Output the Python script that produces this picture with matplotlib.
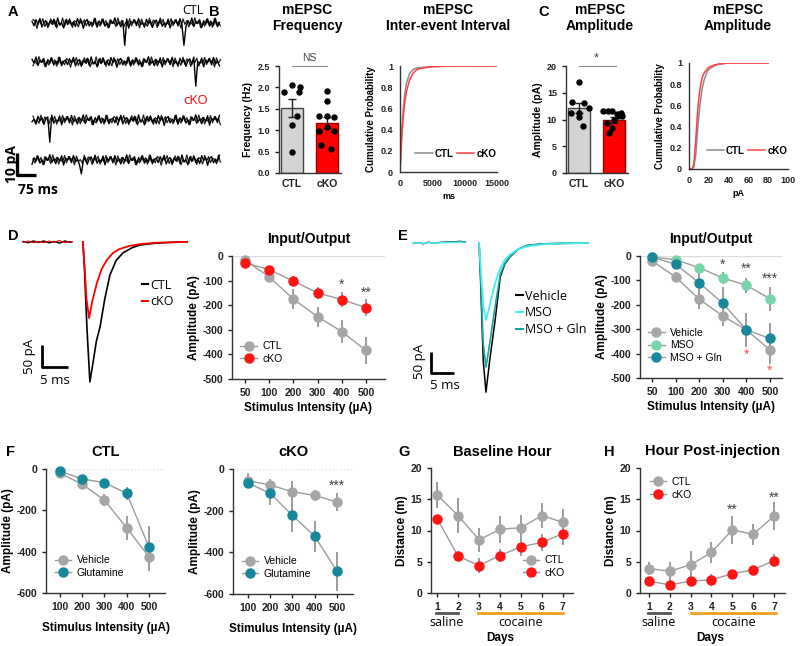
import numpy as np
import matplotlib
matplotlib.use("Agg")
import matplotlib.pyplot as plt
import matplotlib.transforms as mtransforms
from matplotlib.lines import Line2D

plt.rcParams["font.family"] = ["Liberation Sans", "DejaVu Sans"]
plt.rcParams["axes.unicode_minus"] = False
plt.rcParams["axes.linewidth"] = 1.0

# ---------------- data ----------------
# A: spontaneous mEPSC traces (pA), noise read loosely from the picture
trace_jitter = [0.8, -1.2, 1.5, -0.6, 2.1, -1.8, 0.3, 1.1, -2.0, 0.9, -0.4, 1.7,
                -1.5, 2.3, -0.9, 0.2, -2.2, 1.4, -0.7, 1.9, -1.1, 0.6, -1.6, 2.0,
                -0.3, 1.2, -2.4, 0.7, 1.6, -1.3, 0.4, -0.8, 2.2, -1.9, 1.0, -0.5,
                1.8, -1.4, 0.1, -2.1, 1.3, -0.2, 2.4, -1.0, 0.5, -1.7, 1.1, -0.6,
                1.9, -2.3, 0.8, -0.1, 1.5, -1.2, 2.1, -0.8, 0.3, -1.9, 1.7, -0.4,
                1.0, -2.0, 0.6, 1.4, -1.1, 2.2, -1.5, 0.2, -0.7, 1.8, -2.2, 0.9,
                -0.3, 1.6, -1.3, 2.0, -0.9, 0.4, -1.8, 1.2, -0.5, 2.3, -1.6, 0.7,
                -0.2, 1.5, -2.1, 1.1, -0.6, 1.9, -1.4, 0.5, -1.0, 2.1, -1.7, 0.3]
trace_events = [(0, 363, 9.5), (0, 600, 10.5), (1, 644, 9.5), (2, 71, 9.0), (3, 198, 8.0)]

# B: mEPSC frequency
freq_groups = ["CTL", "cKO"]
freq_mean = [1.52, 1.17]
freq_sem = [0.20, 0.13]
freq_ctl = [1.9, 2.06, 2.0, 1.9, 1.33, 1.11, 0.49]
freq_cko = [1.92, 1.68, 1.33, 1.33, 1.32, 0.98, 1.08, 0.97, 0.66, 0.55]

# B: inter-event interval cumulative
iei_ms = [0, 250, 500, 750, 1000, 1500, 2000, 2500, 3000, 4000, 5000, 7500, 10000, 15000]
iei_ctl = [0, 0.36, 0.6, 0.74, 0.84, 0.93, 0.965, 0.98, 0.985, 0.99, 0.995, 1, 1, 1]
iei_cko = [0, 0.30, 0.52, 0.66, 0.76, 0.87, 0.93, 0.96, 0.975, 0.985, 0.993, 0.998, 1, 1]

# C: mEPSC amplitude
amp_mean = [12.2, 9.9]
amp_sem = [0.9, 0.5]
amp_ctl = [17.1, 13.3, 13.0, 11.3, 11.3, 12.2, 10.5, 8.85]
amp_cko = [11.6, 11.6, 11.6, 11.0, 10.6, 10.6, 9.9, 9.4, 8.4, 7.4, 11.2]

# C: amplitude cumulative
amp_pa = [0, 3, 5, 7, 9, 11, 13, 15, 18, 20, 25, 30, 40, 80]
amp_cum_ctl = [0, 0, 0.02, 0.15, 0.4, 0.6, 0.74, 0.83, 0.91, 0.94, 0.97, 0.99, 1, 1]
amp_cum_cko = [0, 0, 0.05, 0.3, 0.58, 0.75, 0.85, 0.9, 0.94, 0.96, 0.98, 0.99, 1, 1]

# D: evoked EPSC traces (ms, pA)
d_t_ctl = [0, 0.3, 0.8, 1.35, 2.0, 2.6, 3.3, 4.2, 5.2, 6.4, 7.7, 9.5, 11, 14, 17, 20]
d_ctl = [0, -60, -200, -318, -270, -225, -193, -130, -75, -42, -25, -13, -7, -3, -1, 0]
d_t_cko = [0, 0.3, 0.7, 1.2, 1.8, 2.7, 3.6, 4.6, 5.8, 7.1, 9, 11, 14, 17, 20]
d_cko = [0, -50, -130, -173, -135, -93, -62, -41, -25, -16, -9, -5, -2, -1, 0]
pre_t = [-11.5, -10.5, -9.5, -8.5, -7.5, -6.5, -5.5, -4.5, -3.5, -2.5, -2.1]
pre_noise = [1, -2, 2, -1, 2, -2, 1, -3, 2, -1, 0]

# D: input/output
stim_d = ["50", "100", "200", "300", "400", "500"]
io_d_ctl = [-17, -85, -175, -247, -307, -384]
io_d_ctl_err = [6, 20, 40, 40, 48, 56]
io_d_cko = [-28, -55, -102, -150, -177, -210]
io_d_cko_err = [5, 10, 20, 25, 30, 35]

# E: evoked EPSC traces
e_t = [0, 0.3, 0.9, 1.5, 2.3, 3.5, 4.6, 5.6, 6.7, 8.5, 10.4, 14, 18, 23.7]
e_veh = [0, -80, -280, -355, -280, -183, -81, -50, -33, -15, -6, -2, -1, 0]
e_mso = [0, -50, -150, -183, -150, -95, -60, -40, -28, -15, -8, -3, -1, 0]
e_gln = [0, -70, -240, -295, -240, -150, -75, -48, -32, -15, -6, -2, -1, 0]
e_pre_t = [-14.3, -13.2, -12.1, -11.0, -9.9, -8.8, -7.7, -6.6, -5.5, -4.4, -3.3, -3.0]
e_pre_noise = [-1, 1, -2, 2, -1, 1, 2, 3, 2, 4, 3, 3]

# E: input/output
io_e_veh = [-20, -86, -177, -246, -303, -385]
io_e_veh_err = [6, 20, 40, 40, 48, 56]
io_e_mso = [-4, -15, -48, -90, -120, -175]
io_e_mso_err = [4, 8, 15, 25, 30, 50]
io_e_gln = [-4, -34, -110, -194, -303, -338]
io_e_gln_err = [4, 10, 60, 65, 70, 65]

# F: glutamine rescue
stim_f = ["100", "200", "300", "400", "500"]
f_ctl_veh = [-21, -74, -151, -285, -425]
f_ctl_veh_err = [8, 10, 30, 60, 70]
f_ctl_gln = [-11, -48, -66, -118, -378]
f_ctl_gln_err = [6, 8, 12, 30, 100]
f_cko_veh = [-56, -77, -109, -127, -158]
f_cko_veh_err = [35, 30, 50, 25, 45]
f_cko_gln = [-66, -117, -223, -323, -491]
f_cko_gln_err = [20, 55, 80, 75, 95]

# G/H: locomotion
days = [1, 2, 3, 4, 5, 6, 7]
g_ctl = [15.7, 12.4, 8.5, 10.2, 10.45, 12.4, 11.3]
g_ctl_err = [2.1, 2.8, 1.9, 2.2, 2.0, 2.0, 2.1]
g_cko = [11.9, 5.9, 4.4, 6.0, 7.4, 8.1, 9.5]
g_cko_err = [0.5, 0.8, 1.2, 1.0, 1.5, 1.3, 1.8]
h_ctl = [3.9, 3.5, 4.5, 6.5, 10.1, 9.4, 12.3]
h_ctl_err = [1.0, 1.5, 2.2, 1.7, 2.3, 1.7, 2.2]
h_cko = [1.9, 1.3, 1.9, 2.1, 3.1, 3.7, 5.2]
h_cko_err = [0.5, 0.6, 0.6, 0.9, 0.6, 0.6, 1.0]

# ---------------- style ----------------
GRAY = "#a6a6a6"
LGRAY = "#9c9c9c"
RED = "#ff1414"
TEAL = "#17879a"
MINT = "#7ad4aa"
CYAN = "#46ecec"
TEAL_TR = "#18a39c"
ORANGE = "#f5a020"
TRACE_FONT = ["Open Sans", "DejaVu Sans"]

W, H = 800, 646
fig = plt.figure(figsize=(8, 6.46), dpi=100)


def px_axes(l, t, r, b):
    return fig.add_axes([l / W, 1 - b / H, (r - l) / W, (b - t) / H])


def letter(x, y, s):
    fig.text(x / W, 1 - y / H, s, fontsize=10.5, fontweight="bold", va="center", ha="left")


def style(ax, size=7):
    for s in ["top", "right"]:
        ax.spines[s].set_visible(False)
    for s in ["left", "bottom"]:
        ax.spines[s].set_color("#333333")
    ax.tick_params(direction="out", length=3, width=1, labelsize=size, colors="#222222")
    for lab in ax.get_xticklabels() + ax.get_yticklabels():
        lab.set_fontweight("bold")


def bar_panel(ax, means, sems, pts, offs, ylim, yticks, ylabel):
    x = np.arange(2)
    ax.bar(x, means, width=0.62, color=["#d4d4d4", "#ff0000"],
           edgecolor=["#444444", "#9a0000"], lw=1, zorder=1)
    ax.errorbar(x, means, yerr=sems, fmt="none", ecolor="#222222", capsize=3, lw=1, zorder=2)
    for i in range(2):
        ax.plot(i + np.array(offs[i]), pts[i], "o", color="black", ms=3.6, zorder=3, clip_on=False)
    ax.set_xlim(-0.38, 1.41)
    ax.set_ylim(*ylim)
    ax.set_yticks(yticks)
    ax.set_xticks(x, freq_groups)
    ax.set_ylabel(ylabel, fontsize=7.5, fontweight="bold", labelpad=3)
    style(ax, 6.5)
    ax.tick_params(axis="x", labelsize=7.5, length=0, pad=4)


def cum_panel(ax, xs, ctl, cko, xlim, xticks, xlabel):
    ax.plot(xs, ctl, color="#8c8c8c", lw=1.1)
    ax.plot(xs, cko, color="#ff4040", lw=1.1)
    ax.set_xlim(*xlim)
    ax.set_ylim(0, 1)
    ax.set_xticks(xticks)
    ax.set_yticks([0, 0.2, 0.4, 0.6, 0.8, 1], ["0", "0.2", "0.4", "0.6", "0.8", "1"])
    ax.set_xlabel(xlabel, fontsize=6.5, fontweight="bold", labelpad=3)
    ax.set_ylabel("Cumulative Probability", fontsize=7, fontweight="bold", labelpad=3)
    style(ax, 6.5)
    ax.tick_params(length=0, pad=5)
    handles = [Line2D([0], [0], color="#8c8c8c", lw=1.1), Line2D([0], [0], color="#ff4040", lw=1.1)]
    ax.legend(handles, ["CTL", "cKO"], ncol=2, frameon=False, loc="lower right",
              bbox_to_anchor=(1.04, 0.08), prop={"weight": "bold", "size": 7},
              handlelength=1.8, handletextpad=0.2, columnspacing=0.3, borderpad=0)


def line_panel(ax, series, xlim, ylim, yticks, xticklabels, ylabel, zero=None):
    for vals, errs, color, label in series:
        x = np.arange(len(vals)) if xticklabels is not None else np.array(days)
        ax.errorbar(x, vals, yerr=errs, color=LGRAY, lw=1, elinewidth=1.4, capsize=0,
                    zorder=2, clip_on=False)
        ax.plot(x, vals, "o", color=color, ms=6.5, zorder=3, clip_on=False)
    if zero == "solid":
        ax.axhline(0, color="#dddddd", lw=1, zorder=0)
    elif zero == "dotted":
        ax.axhline(0, color="#dddddd", lw=1, ls=":", zorder=0)
    ax.set_xlim(*xlim)
    ax.set_ylim(*ylim)
    ax.set_yticks(yticks, [str(v) for v in yticks])
    if xticklabels is not None:
        ax.set_xticks(np.arange(len(xticklabels)), xticklabels)
    else:
        ax.set_xticks(days, [str(d) for d in days])
    ax.set_ylabel(ylabel, fontsize=8.5, fontweight="bold", labelpad=2)
    style(ax, 7.5)


def legend_io(ax, series, loc, anchor):
    handles = [Line2D([0], [0], color=LGRAY, lw=1, marker="o", mfc=c, mec=c, ms=6.5)
               for _, _, c, _ in series]
    ax.legend(handles, [s[3] for s in series], loc=loc, bbox_to_anchor=anchor, frameon=False,
              fontsize=7.5, handlelength=1.6, handletextpad=0.5, labelspacing=0.25, borderpad=0)


# ---------------- A ----------------
letter(8, 12, "A")
ax = px_axes(10, 0, 225, 200)
ax.axis("off")
ax.set_xlim(-87, 762)
ax.set_ylim(0, 91)
trace_base = [80.5, 62.8, 36.4, 18.2]
trace_roll = [0, 17, 41, 63]
t = np.linspace(0, 740, len(trace_jitter))
half = (t[1] - t[0]) / 2
for i, base in enumerate(trace_base):
    jit = np.array(trace_jitter)
    y = base + np.roll(jit, trace_roll[i])
    y2 = base + np.roll(jit[::-1], trace_roll[i] + 29)
    for ti, et, amp in trace_events:
        if ti == i:
            y[np.argmin(np.abs(t - et))] -= amp
    ax.plot(t + half, y2, color="#222222", lw=0.9)
    ax.plot(t, y, color="black", lw=1.0)
ax.plot([-59, -59, 16], [21.4, 11.4, 11.4], color="black", lw=2.4, solid_capstyle="butt")
ax.text(-80, 16.4, "10 pA", rotation=90, ha="center", va="center", fontsize=10,
        fontweight="bold", family=TRACE_FONT)
ax.text(-56, 4.6, "75 ms", ha="left", va="center", fontsize=10, fontweight="bold", family=TRACE_FONT)
fig.text(182 / W, 1 - 10 / H, "CTL", fontsize=9, family=TRACE_FONT, va="center")
fig.text(183 / W, 1 - 100 / H, "cKO", fontsize=9.5, family=TRACE_FONT, va="center", color="red")

# ---------------- B ----------------
letter(209, 12, "B")
ax = px_axes(279, 66, 341, 173)
bar_panel(ax, freq_mean, freq_sem, [freq_ctl, freq_cko],
          [[-0.23, 0, 0.23, 0.2, 0.15, 0, 0],
           [0, 0, -0.23, 0, 0.22, -0.23, 0, 0.22, -0.18, 0.12]],
          (0, 2.5), [0, 0.5, 1.0, 1.5, 2.0, 2.5], "Frequency (Hz)")
ax.set_yticks([0, 0.5, 1.0, 1.5, 2.0, 2.5], ["0.0", "0.5", "1.0", "1.5", "2.0", "2.5"], fontweight="bold")
ax.plot([0, 1], [2.5, 2.5], color="#888888", lw=0.8, clip_on=False)
ax.text(0.5, 2.56, "NS", ha="center", va="bottom", fontsize=7.5, color="#444444")
fig.text(307 / W, 1 - 18 / H, "mEPSC\nFrequency", ha="center", va="center", fontsize=10,
         fontweight="bold", linespacing=1.25)

ax = px_axes(400, 66, 497, 172)
cum_panel(ax, iei_ms, iei_ctl, iei_cko, (0, 15000), [0, 5000, 10000, 15000], "ms")
fig.text(448 / W, 1 - 18 / H, "mEPSC\nInter-event Interval", ha="center", va="center",
         fontsize=10, fontweight="bold", linespacing=1.25)

# ---------------- C ----------------
letter(538, 12, "C")
ax = px_axes(566, 66, 628, 173)
bar_panel(ax, amp_mean, amp_sem, [amp_ctl, amp_cko],
          [[0, -0.2, 0.15, -0.24, 0, 0.27, 0, 0.1],
           [-0.3, -0.18, -0.06, 0.08, 0.12, 0.24, 0.0, -0.2, -0.05, -0.15, 0.2]],
          (0, 20), [0, 5, 10, 15, 20], "Amplitude (pA)")
ax.plot([0, 1.05], [20, 20], color="#888888", lw=0.8, clip_on=False)
ax.text(0.5, 20.2, "*", ha="center", va="bottom", fontsize=9, color="#444444")
fig.text(600 / W, 1 - 18 / H, "mEPSC\nAmplitude", ha="center", va="center", fontsize=10,
         fontweight="bold", linespacing=1.25)

ax = px_axes(689, 63, 788, 169)
cum_panel(ax, amp_pa, amp_cum_ctl, amp_cum_cko, (0, 100), [0, 20, 40, 60, 80, 100], "pA")
fig.text(738 / W, 1 - 18 / H, "mEPSC\nAmplitude", ha="center", va="center", fontsize=10,
         fontweight="bold", linespacing=1.25)

# ---------------- D ----------------
letter(8, 236, "D")
ax = px_axes(10, 215, 200, 400)
ax.axis("off")
ax.set_xlim(-14.0, 22.5)
ax.set_ylim(-359, 61)
ax.plot(pre_t, pre_noise, color="black", lw=1)
ax.plot(pre_t, np.array(pre_noise) * -1, color="red", lw=0.8)
ax.plot(d_t_ctl, d_ctl, color="black", lw=1.2)
ax.plot(d_t_cko, d_cko, color="red", lw=1.3)
ax.plot([-7.9, -7.9, -2.9], [-234, -284, -284], color="black", lw=2, solid_capstyle="butt")
ax.text(-10.3, -259, "50 pA", rotation=90, ha="center", va="center", fontsize=9.5, family=TRACE_FONT)
ax.text(-8.2, -314, "5 ms", ha="left", va="center", fontsize=9.5, family=TRACE_FONT)
ax.legend([Line2D([0], [0], color="black", lw=1.5), Line2D([0], [0], color="red", lw=1.5)],
          ["CTL", "cKO"], loc="upper left", bbox_to_anchor=(0.66, 0.69), frameon=False,
          prop={"family": TRACE_FONT, "size": 9}, handlelength=0.5, handletextpad=0.2,
          labelspacing=0.3, borderpad=0)

ax = px_axes(232, 256, 385, 379)
d_series = [(io_d_ctl, io_d_ctl_err, GRAY, "CTL"), (io_d_cko, io_d_cko_err, RED, "cKO")]
line_panel(ax, d_series, (-0.54, 5.79), (-500, 0), [0, -100, -200, -300, -400, -500],
           stim_d, "Amplitude (pA)", zero="solid")
ax.set_xlabel("Stimulus Intensity (µA)", fontsize=8.5, fontweight="bold", labelpad=3)
ax.set_title("Input/Output", fontsize=10, fontweight="bold", pad=9)
ax.text(4, -115, "*", ha="center", va="center", fontsize=10, color="#444444")
ax.text(5, -150, "**", ha="center", va="center", fontsize=10, color="#444444")
legend_io(ax, d_series, "lower left", (0.02, 0.08))

# ---------------- E ----------------
letter(398, 236, "E")
ax = px_axes(400, 215, 600, 400)
ax.axis("off")
ax.set_xlim(-17.2, 26.3)
ax.set_ylim(-373.7, 66.6)
ax.plot(e_pre_t, e_pre_noise, color="black", lw=1)
ax.plot(e_pre_t, np.array(e_pre_noise) * 0.6, color=CYAN, lw=1.2)
ax.plot(e_t, e_veh, color="black", lw=1.1)
ax.plot(e_t, e_gln, color=TEAL_TR, lw=1.2)
ax.plot(e_t, e_mso, color=CYAN, lw=1.3)
ax.plot([-10.4, -10.4, -5.4], [-259, -309, -309], color="black", lw=2, solid_capstyle="butt")
ax.text(-12.9, -283, "50 pA", rotation=90, ha="center", va="center", fontsize=9.5, family=TRACE_FONT)
ax.text(-10.6, -338, "5 ms", ha="left", va="center", fontsize=9.5, family=TRACE_FONT)
ax.legend([Line2D([0], [0], color="black", lw=1.5), Line2D([0], [0], color=CYAN, lw=1.5),
           Line2D([0], [0], color=TEAL_TR, lw=1.5)],
          ["Vehicle", "MSO", "MSO + Gln"], loc="upper left", bbox_to_anchor=(0.55, 0.63),
          frameon=False, prop={"family": TRACE_FONT, "size": 9}, handlelength=0.5,
          handletextpad=0.2, labelspacing=0.3, borderpad=0)

ax = px_axes(640, 256, 782, 378)
e_series = [(io_e_veh, io_e_veh_err, GRAY, "Vehicle"), (io_e_mso, io_e_mso_err, MINT, "MSO"),
            (io_e_gln, io_e_gln_err, TEAL, "MSO + Gln")]
line_panel(ax, e_series, (-0.51, 5.51), (-500, 0), [0, -100, -200, -300, -400, -500],
           stim_d, "Amplitude (pA)", zero="solid")
ax.set_xlabel("Stimulus Intensity (µA)", fontsize=8.5, fontweight="bold", labelpad=3)
ax.set_title("Input/Output", fontsize=10, fontweight="bold", pad=9)
for xi, yi, s in [(3, -38, "*"), (4, -54, "**"), (5, -95, "***")]:
    ax.text(xi, yi, s, ha="center", va="center", fontsize=10, color="#444444")
for xi, yi in [(4, -405), (5, -470)]:
    ax.text(xi, yi, "*", ha="center", va="center", fontsize=10, color="#ff5050")
legend_io(ax, e_series, "lower left", (0.02, 0.08))

# ---------------- F ----------------
letter(6, 452, "F")
ax = px_axes(46, 469, 165, 593)
f1 = [(f_ctl_veh, f_ctl_veh_err, GRAY, "Vehicle"), (f_ctl_gln, f_ctl_gln_err, TEAL, "Glutamine")]
line_panel(ax, f1, (-0.63, 4.72), (-600, 0), [0, -200, -400, -600], stim_f,
           "Amplitude (pA)", zero="dotted")
ax.set_xlabel("Stimulus Intensity (µA)", fontsize=8.5, fontweight="bold", labelpad=7)
ax.set_title("CTL", fontsize=10.5, fontweight="bold", pad=9)
legend_io(ax, f1, "lower left", (0.03, 0.08))

ax = px_axes(233, 469, 353, 594)
f2 = [(f_cko_veh, f_cko_veh_err, GRAY, "Vehicle"), (f_cko_gln, f_cko_gln_err, TEAL, "Glutamine")]
line_panel(ax, f2, (-0.67, 4.72), (-600, 0), [0, -200, -400, -600], stim_f,
           "Amplitude (pA)", zero="dotted")
ax.set_xlabel("Stimulus Intensity (µA)", fontsize=8.5, fontweight="bold", labelpad=7)
ax.set_title("cKO", fontsize=10.5, fontweight="bold", pad=9)
ax.text(4, -82, "***", ha="center", va="center", fontsize=10, color="#444444")
legend_io(ax, f2, "lower left", (0.03, 0.08))


# ---------------- G / H ----------------
def days_axis(ax, sal, coc):
    tr = mtransforms.blended_transform_factory(ax.transData, ax.transAxes)
    ax.plot(sal, [-0.16, -0.16], color="#555555", lw=2, transform=tr, clip_on=False)
    ax.plot(coc, [-0.16, -0.16], color=ORANGE, lw=2, transform=tr, clip_on=False)
    ax.text(np.mean(sal), -0.235, "saline", transform=tr, ha="center", va="center",
            fontsize=9, family=TRACE_FONT)
    ax.text(np.mean(coc), -0.235, "cocaine", transform=tr, ha="center", va="center",
            fontsize=9, family=TRACE_FONT)
    ax.text(np.mean(ax.get_xlim()) - 0.1, -0.36, "Days", transform=tr, ha="center", va="center",
            fontsize=8.5, fontweight="bold")


letter(398, 452, "G")
ax = px_axes(431, 468, 573, 593)
g_series = [(g_ctl, g_ctl_err, GRAY, "CTL"), (g_cko, g_cko_err, RED, "cKO")]
line_panel(ax, g_series, (0.71, 7.48), (0, 20), [0, 5, 10, 15, 20], None, "Distance (m)")
ax.set_title("Baseline Hour", fontsize=10.5, fontweight="bold", pad=9)
days_axis(ax, [0.95, 2.0], [2.95, 7.0])
legend_io(ax, g_series, "lower right", (0.98, 0.08))

letter(604, 452, "H")
ax = px_axes(640, 468, 785, 593)
h_series = [(h_ctl, h_ctl_err, GRAY, "CTL"), (h_cko, h_cko_err, RED, "cKO")]
line_panel(ax, h_series, (0.57, 7.53), (0, 20), [0, 5, 10, 15, 20], None, "Distance (m)")
ax.set_title("Hour Post-injection", fontsize=10.5, fontweight="bold", pad=9)
ax.text(5, 13.3, "**", ha="center", va="center", fontsize=10, color="#444444")
ax.text(7, 15.2, "**", ha="center", va="center", fontsize=10, color="#444444")
days_axis(ax, [0.95, 2.0], [3.0, 7.1])
legend_io(ax, h_series, "upper left", (0.03, 0.97))

fig.savefig("out.png", dpi=100)
